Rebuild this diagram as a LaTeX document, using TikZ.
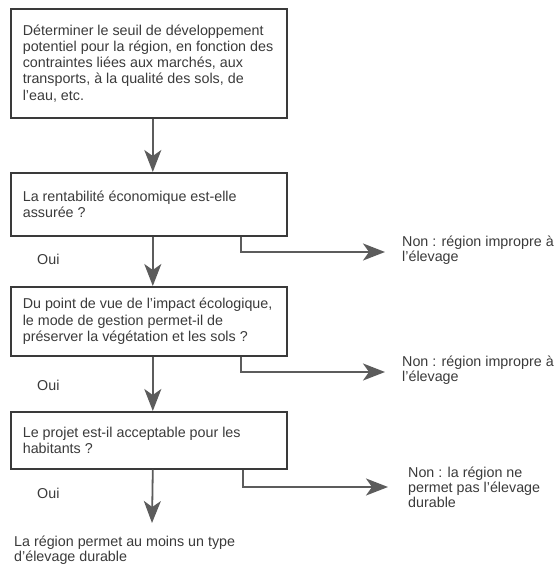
\documentclass[tikz,border=0pt]{standalone}
\usepackage{fontspec}
\setmainfont{Liberation Sans}
\usetikzlibrary{arrows.meta}
\definecolor{inkgray}{HTML}{3A3A3A}
\definecolor{linegray}{HTML}{5C5C5C}

\begin{document}
\begin{tikzpicture}[x=1pt,y=-1pt,
  every node/.style={font=\fontsize{14.3}{16.3}\selectfont,text=inkgray},
  etape/.style={draw=inkgray,line width=1.6pt,anchor=north west,text width=252pt,
    inner xsep=12pt,inner ysep=0pt,align=flush left},
  note/.style={anchor=base west,inner sep=0pt,align=flush left,font=\fontsize{14.3}{14.8}\selectfont},
  fleche/.style={draw=linegray,line width=1.8pt,-{Stealth[length=22pt,width=17pt,inset=6pt]}}]
\useasboundingbox (0,0) rectangle (555,570);

\node[etape,minimum height=109pt] (seuil) at (10,8) {Déterminer le seuil de développement\\
potentiel pour la région, en fonction des\\
contraintes liées aux marchés, aux\\
transports, à la qualité des sols, de\\
l'eau, etc.};
\node[etape,minimum height=63pt] (renta) at (10,172) {La rentabilité économique est-elle\\
assurée ?};
\node[etape,minimum height=69pt] (impact) at (10,286) {Du point de vue de l'impact écologique,\\
le mode de gestion permet-il de\\
préserver la végétation et les sols ?};
\node[etape,minimum height=57pt] (projet) at (10,411) {Le projet est-il acceptable pour les\\
habitants ?};

\node[note] (oui1) at (37,264) {Oui};
\node[note] (oui2) at (37,390) {Oui};
\node[note] (oui3) at (37,498) {Oui};

% base = derniere ligne
\node[note] (non1) at (402,261.5) {Non : région impropre à\\ l'élevage};
\node[note] (non2) at (402,381.5) {Non : région impropre à\\ l'élevage};
\node[note] (non3) at (408,507.5) {Non : la région ne\\ permet pas l'élevage\\ durable};
\node[note] (durable) at (14,561.5) {La région permet au moins un type\\ d'élevage durable};

\coordinate (fin) at (152,523);
\coordinate (refus1) at (385,252);
\coordinate (refus2) at (385,372);
\coordinate (refus3) at (388,487);

\draw[fleche] ([xshift=4pt]seuil.south) -- ([xshift=4pt]renta.north);
\draw[fleche] ([xshift=4pt]renta.south) -- ([xshift=4pt]impact.north);
\draw[fleche] ([xshift=4pt]impact.south) -- ([xshift=4pt]projet.north);
\draw[fleche] ([xshift=4pt]projet.south) -- (fin);

\draw[fleche] ([xshift=92pt]renta.south) |- (refus1);
\draw[fleche] ([xshift=92pt]impact.south) |- (refus2);
\draw[fleche] ([xshift=94pt]projet.south) |- (refus3);

\end{tikzpicture}
\end{document}
